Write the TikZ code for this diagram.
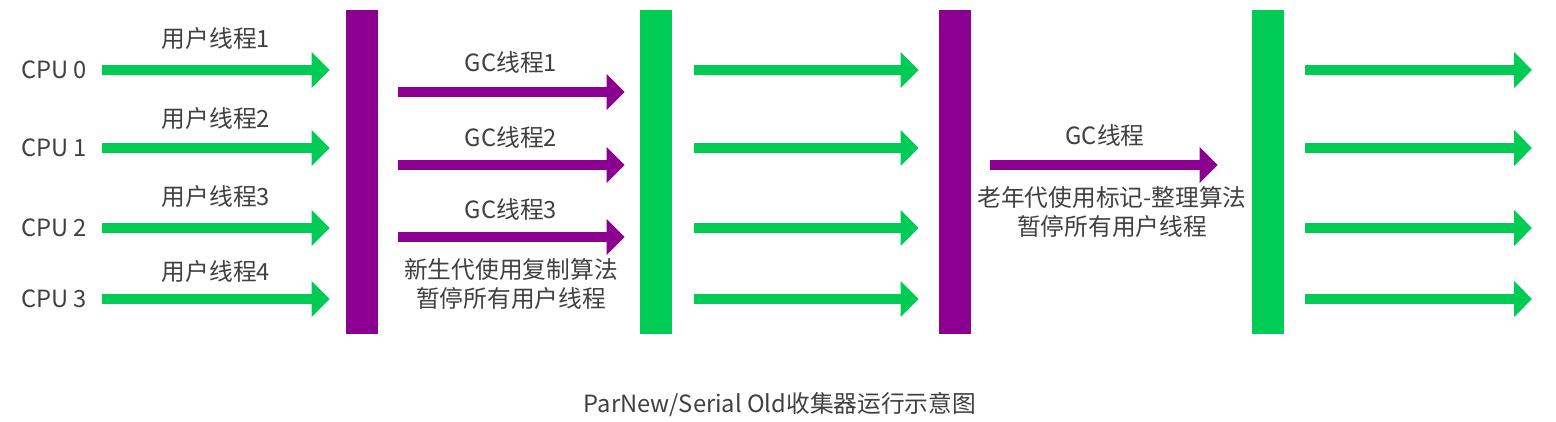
\documentclass[tikz,border=0pt]{standalone}
\usepackage{fontspec}
\setmainfont{Noto Sans CJK SC}
\usetikzlibrary{arrows.meta}
\definecolor{gcgreen}{RGB}{0,204,85}
\definecolor{gcpurple}{RGB}{140,0,145}
\definecolor{txtgray}{RGB}{64,64,64}
\tikzset{
  bar/.style={minimum width=0.64cm, minimum height=6.48cm, inner sep=0},
  pbar/.style={bar, fill=gcpurple},
  gbar/.style={bar, fill=gcgreen},
  lbl/.style={text=txtgray, font=\fontsize{13.5}{16.5}\selectfont, inner sep=0, align=center},
  garrow/.style={draw=gcgreen, line width=0.2cm, -{Triangle[length=0.36cm,width=0.7cm]}},
  parrow/.style={draw=gcpurple, line width=0.2cm, -{Triangle[length=0.36cm,width=0.7cm]}}
}
\begin{document}
\begin{tikzpicture}[x=0.02cm,y=-0.02cm]
\useasboundingbox (0,0) rectangle (1556,422);

% the four pauses
\node [pbar] (b1) at (362,172) {};
\node [gbar] (b2) at (656,172) {};
\node [pbar] (b3) at (955,172) {};
\node [gbar] (b4) at (1268,172) {};

% cpus and user threads
\node [lbl] (cpu0) at (54,70) {CPU 0};
\node [lbl] (cpu1) at (54,148) {CPU 1};
\node [lbl] (cpu2) at (54,228) {CPU 2};
\node [lbl] (cpu3) at (54,299) {CPU 3};
\node [lbl] (u1) at (216,39) {用户线程1};
\node [lbl] (u2) at (216,119) {用户线程2};
\node [lbl] (u3) at (216,197) {用户线程3};
\node [lbl] (u4) at (216,272) {用户线程4};

\draw [garrow, shorten <=0.3cm, shorten >=0.32cm] (cpu0.east) -- (cpu0.east -| b1.west);
\draw [garrow, shorten <=0.3cm, shorten >=0.32cm] (cpu1.east) -- (cpu1.east -| b1.west);
\draw [garrow, shorten <=0.3cm, shorten >=0.32cm] (cpu2.east) -- (cpu2.east -| b1.west);
\draw [garrow, shorten <=0.3cm, shorten >=0.32cm] (cpu3.east) -- (cpu3.east -| b1.west);

% young generation gc
\coordinate (p1) at (0,92);
\coordinate (p2) at (0,165);
\coordinate (p3) at (0,237);
\node [lbl] (gc1) at (511,62) {GC线程1};
\node [lbl] (gc2) at (511,137) {GC线程2};
\node [lbl] (gc3) at (511,209) {GC线程3};
\draw [parrow, shorten <=0.4cm, shorten >=0.3cm] (b1.east |- p1) -- (b2.west |- p1);
\draw [parrow, shorten <=0.4cm, shorten >=0.3cm] (b1.east |- p2) -- (b2.west |- p2);
\draw [parrow, shorten <=0.4cm, shorten >=0.3cm] (b1.east |- p3) -- (b2.west |- p3);
\node [lbl] (young) at (511,284) {新生代使用复制算法\\暂停所有用户线程};

% user threads again
\draw [garrow, shorten <=0.44cm, shorten >=0.4cm] (b2.east |- cpu0) -- (b3.west |- cpu0);
\draw [garrow, shorten <=0.44cm, shorten >=0.4cm] (b2.east |- cpu1) -- (b3.west |- cpu1);
\draw [garrow, shorten <=0.44cm, shorten >=0.4cm] (b2.east |- cpu2) -- (b3.west |- cpu2);
\draw [garrow, shorten <=0.44cm, shorten >=0.4cm] (b2.east |- cpu3) -- (b3.west |- cpu3);

% old generation gc
\node [lbl] (gc) at (1105,135) {GC线程};
\draw [parrow, shorten <=0.38cm, shorten >=0.68cm] (b3.east |- p2) -- (b4.west |- p2);
\node [lbl] (old) at (1112,212) {老年代使用标记-整理算法\\暂停所有用户线程};

% and on
\coordinate (out) at (1532,0);
\draw [garrow, shorten <=0.42cm] (b4.east |- cpu0) -- (out |- cpu0);
\draw [garrow, shorten <=0.42cm] (b4.east |- cpu1) -- (out |- cpu1);
\draw [garrow, shorten <=0.42cm] (b4.east |- cpu2) -- (out |- cpu2);
\draw [garrow, shorten <=0.42cm] (b4.east |- cpu3) -- (out |- cpu3);

\node [lbl] (title) at (780,405) {ParNew/Serial Old收集器运行示意图};
\end{tikzpicture}
\end{document}
